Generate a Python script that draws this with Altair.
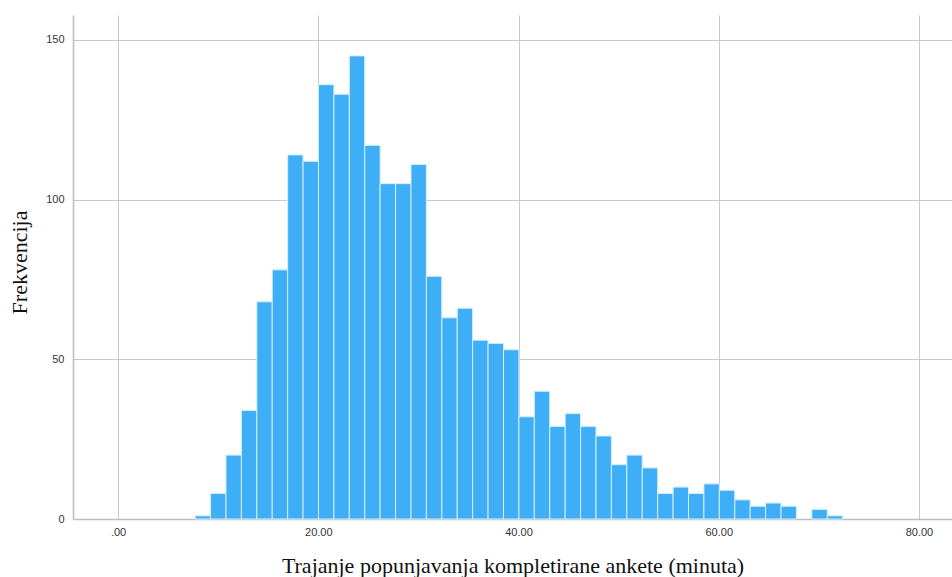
import altair as alt
import pandas as pd

# Histogram of completion time (minutes), SPSS-style layout
bin_start = 7.7          # left edge of the first bin (minutes)
bin_width = 1.54         # width of each bin (minutes)
counts = [1, 8, 20, 34, 68, 78, 114, 112, 136, 133, 145, 117, 105, 105, 111,
          76, 63, 66, 56, 55, 53, 32, 40, 29, 33, 29, 26, 17, 20, 16, 8, 10,
          8, 11, 9, 6, 4, 5, 4, 0, 3, 1]

x_ticks = [0, 20, 40, 60, 80]
y_ticks = [0, 50, 100, 150]

x_title = "Trajanje popunjavanja kompletirane ankete (minuta)"
y_title = "Frekvencija"

rows = []
for i, c in enumerate(counts):
    if c > 0:
        lo = bin_start + i * bin_width
        rows.append({"lo": lo, "hi": lo + bin_width, "count": c})
df = pd.DataFrame(rows)

label_font = "Liberation Sans"
title_font = "Liberation Serif"

bars = alt.Chart(df).mark_rect(
    color="#3eaef6", stroke="#d6effe", strokeWidth=1
).encode(
    x=alt.X(
        "lo:Q",
        scale=alt.Scale(domain=[-4.5, 83.3], nice=False, zero=False),
        axis=alt.Axis(
            values=x_ticks,
            labelExpr="datum.value == 0 ? '.00' : format(datum.value, '.2f')",
            ticks=False,
            grid=True,
            gridColor="#c9c9c9",
            domainColor="#bdbdbd",
            domainWidth=1.5,
            labelFont=label_font,
            labelFontSize=11,
            labelColor="#333333",
            labelPadding=7,
            title=x_title,
            titleFont=title_font,
            titleFontSize=22,
            titleFontWeight="normal",
            titleColor="#111111",
            titleBaseline="alphabetic",
            titleY=53,
        ),
    ),
    x2="hi:Q",
    y=alt.Y(
        "count:Q",
        scale=alt.Scale(domain=[0, 157.8], nice=False),
        axis=alt.Axis(
            values=y_ticks,
            ticks=False,
            grid=True,
            gridColor="#c9c9c9",
            domainColor="#bdbdbd",
            domainWidth=1.5,
            labelFont=label_font,
            labelFontSize=11,
            labelColor="#333333",
            labelPadding=9,
            title=y_title,
            titleFont=title_font,
            titleFontSize=22,
            titleFontWeight="normal",
            titleColor="#111111",
            titleAngle=-90,
            titleAlign="center",
            titleBaseline="middle",
            titleX=-54,
            titleY=247,
        ),
    ),
    y2=alt.datum(0),
)

chart = bars.properties(
    width=879,
    height=504,
    autosize=alt.AutoSizeParams(type="none"),
    padding={"left": 73, "top": 15, "right": 0, "bottom": 58},
    background="white",
).configure_view(stroke="transparent")

chart.save("out.html", embed_options={"renderer": "svg", "actions": False})
